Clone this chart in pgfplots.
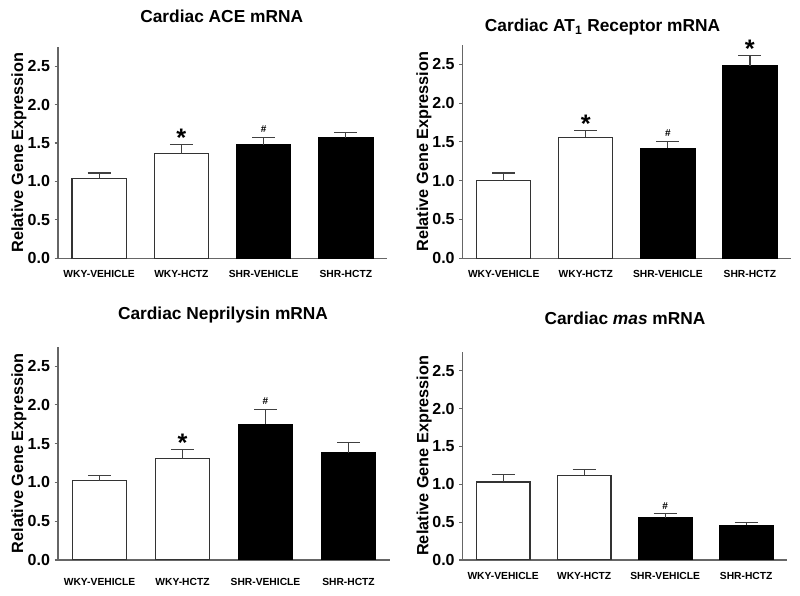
\documentclass[border=0pt]{standalone}
\usepackage{pgfplots}
\pgfplotsset{compat=1.18}
\usepackage{pgfplotstable}
\usepackage{fontspec}
\setmainfont{Liberation Sans}

% x = group (0 WKY-VEHICLE, 1 WKY-HCTZ, 2 SHR-VEHICLE, 3 SHR-HCTZ), y = mean, err = SEM
\pgfplotstableread{
x y err
0 1.04 0.07
1 1.36 0.12
2 1.48 0.09
3 1.57 0.07
}\ace
\pgfplotstableread{
x y err
0 1.00 0.10
1 1.56 0.09
2 1.42 0.09
3 2.48 0.13
}\atone
\pgfplotstableread{
x y err
0 1.02 0.07
1 1.31 0.11
2 1.75 0.19
3 1.38 0.13
}\nep
\pgfplotstableread{
x y err
0 1.03 0.10
1 1.12 0.08
2 0.56 0.05
3 0.46 0.03
}\mas

\tikzset{ttl/.style={font=\bfseries\fontsize{13}{14}\selectfont}}

\pgfplotsset{
  panel/.style={
    scale only axis, ybar, bar width=0.66, bar shift=0pt,
    ymin=0, ymax=2.75, xmin=-0.5, xmax=3.5,
    axis x line=bottom, axis y line=left,
    axis line style={-, draw=black!60, line width=1pt},
    xtick={0,1,2,3},
    xticklabels={WKY-VEHICLE, WKY-HCTZ, SHR-VEHICLE, SHR-HCTZ},
    major x tick style={draw=none},
    ytick={0,0.5,...,2.5},
    tick align=outside, major tick length=2.5pt,
    major y tick style={draw=black!60, line width=0.8pt},
    yticklabel style={font=\bfseries\fontsize{12}{12}\selectfont,
      /pgf/number format/fixed, /pgf/number format/fixed zerofill,
      /pgf/number format/precision=1, /pgf/number format/assume math mode=true},
    xticklabel style={font=\bfseries\fontsize{7.7}{8}\selectfont, yshift=-3pt},
    ylabel={Relative Gene Expression},
    ylabel style={font=\bfseries\fontsize{12.2}{13}\selectfont, anchor=center},
  },
  wky/.style={fill=white, draw=black!80, line width=0.9pt, bar shift=0pt, restrict x to domain=0:1},
  shr/.style={fill=black, draw=black, line width=0.9pt, bar shift=0pt, restrict x to domain=2:3},
  errs/.style={error bars/.cd, y dir=plus, y explicit,
    error bar style={line width=0.9pt, draw=black!75},
    error mark options={rotate=90, mark size=8.6pt, line width=0.9pt, draw=black!75}},
  star/.style={draw=none, fill=none, bar shift=0pt, nodes near coords={*},
    every node near coord/.append style={font=\bfseries\fontsize{19}{19}\selectfont, anchor=south, yshift=-5pt}},
  hash/.style={draw=none, fill=none, bar shift=0pt, nodes near coords={\#},
    every node near coord/.append style={font=\bfseries\fontsize{7.5}{8}\selectfont, anchor=south, yshift=0pt}},
}

\begin{document}
\begin{tikzpicture}
\useasboundingbox (0,0) rectangle (600pt,447pt);

% top left
\begin{axis}[panel, at={(43.5pt,253.3pt)}, anchor=south west, width=246.75pt, height=158.5pt,
  ylabel style={at={(axis description cs:-0.1185,0.5)}}]
\addplot[wky, errs] table[x=x, y=y, y error=err] {\ace};
\addplot[shr, errs] table[x=x, y=y, y error=err] {\ace};
\addplot[star] coordinates {(1,1.48)};
\addplot[hash] coordinates {(2,1.57)};
\end{axis}
\node[ttl] at (166.3pt,434.5pt) {Cardiac ACE mRNA};

% top right
\begin{axis}[panel, at={(347pt,253.3pt)}, anchor=south west, width=246.2pt, height=160pt,
  ylabel style={at={(axis description cs:-0.118,0.5)}}]
\addplot[wky, errs] table[x=x, y=y, y error=err] {\atone};
\addplot[shr, errs] table[x=x, y=y, y error=err] {\atone};
\addplot[star] coordinates {(1,1.65) (3,2.61)};
\addplot[hash] coordinates {(2,1.51)};
\end{axis}
\node[ttl] at (451.9pt,426.75pt) {Cardiac AT\textsubscript{1} Receptor mRNA};

% bottom left
\begin{axis}[panel, at={(43.5pt,27pt)}, anchor=south west, width=249pt, height=160pt,
  xticklabel style={yshift=-5pt},
  ylabel style={at={(axis description cs:-0.1175,0.5)}}]
\addplot[wky, errs] table[x=x, y=y, y error=err] {\nep};
\addplot[shr, errs] table[x=x, y=y, y error=err] {\nep};
\addplot[star] coordinates {(1,1.42)};
\addplot[hash] coordinates {(2,1.94)};
\end{axis}
\node[ttl] at (167.25pt,210.75pt) {Cardiac Neprilysin mRNA};

% bottom right
\begin{axis}[panel, at={(347pt,27pt)}, anchor=south west, width=243pt, height=156.2pt,
  ylabel style={at={(axis description cs:-0.119,0.5)}}]
\addplot[wky, errs] table[x=x, y=y, y error=err] {\mas};
\addplot[shr, errs] table[x=x, y=y, y error=err] {\mas};
\addplot[hash] coordinates {(2,0.61)};
\end{axis}
\node[ttl] at (468.75pt,208.5pt) {Cardiac \textit{mas} mRNA};
\end{tikzpicture}
\end{document}
